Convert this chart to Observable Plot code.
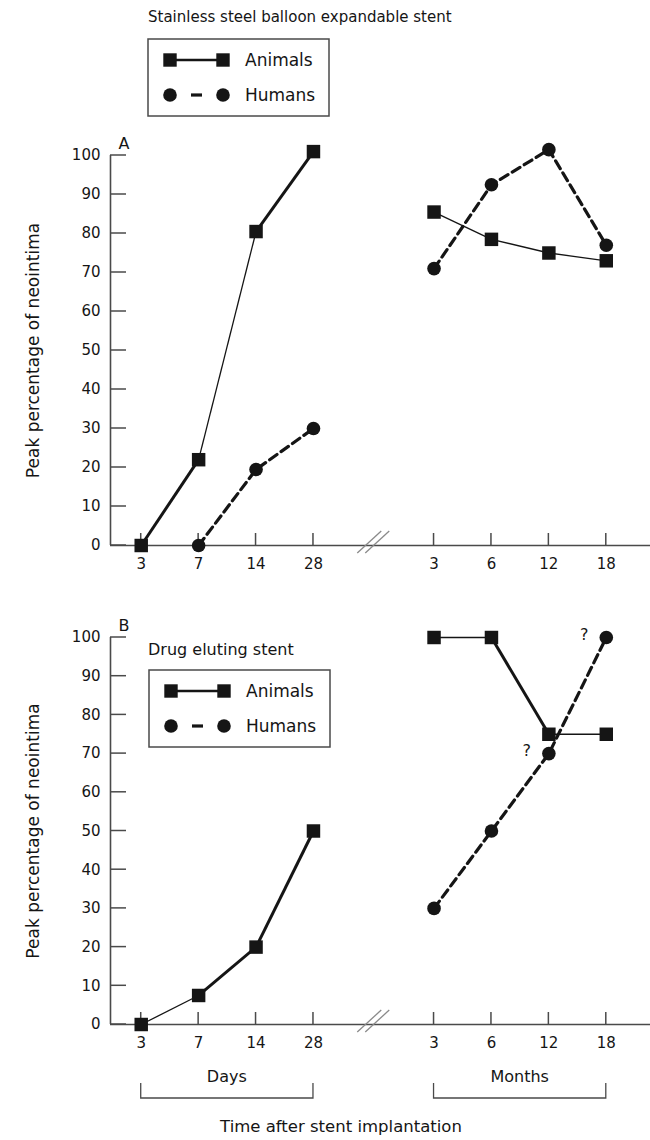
<!DOCTYPE html>
<html><head><meta charset="utf-8">
<script src="https://cdn.jsdelivr.net/npm/d3@7"></script>
<script src="https://cdn.jsdelivr.net/npm/@observablehq/plot@0.6"></script>
<style>
body{margin:0;background:#fff;}
#wrap{position:relative;width:650px;height:1140px;font-family:"DejaVu Sans",sans-serif;color:#222;overflow:hidden;}
#wrap > svg, #wrap > div{position:absolute;}
.ttl{font-size:15px;white-space:nowrap;color:#151515;}
</style></head><body><div id="wrap"></div>
<script>
// ---------- data ----------
const dayLabels = ["3", "7", "14", "28"];
const monthLabels = ["3", "6", "12", "18"];
const yTickValues = [0, 10, 20, 30, 40, 50, 60, 70, 80, 90, 100];
const seriesNames = ["Animals", "Humans"];

// Panel A: stainless steel balloon expandable stent
const aAnimalsDays = [0, 22, 80.5, 101];
const aAnimalsMonths = [85.5, 78.5, 75, 73];
const aHumansDays = [null, 0, 19.5, 30];
const aHumansMonths = [71, 92.5, 101.5, 77];
const aAnimalsDayWidths = [3, 1.3, 3];
const aAnimalsMonthWidths = [1.3, 1.3, 1.3];
const aNotes = [null, null, null, null];

// Panel B: drug eluting stent
const bAnimalsDays = [0, 7.5, 20, 50];
const bAnimalsMonths = [100, 100, 75, 75];
const bHumansDays = [null, null, null, null];
const bHumansMonths = [30, 50, 70, 100];
const bAnimalsDayWidths = [1.3, 3, 3];
const bAnimalsMonthWidths = [1.3, 3, 1.3];
const bNotes = [null, null, "?", "?"];

// ---------- layout ----------
const W = 650;
const monthStart = 5.1;            // position of first month tick (gap for axis break)
const xDomain = [-0.535, 8.87];
const tickPos = [...dayLabels.map((_, i) => i), ...monthLabels.map((_, j) => monthStart + j)];
const tickText = [...dayLabels, ...monthLabels];
const labelAt = new Map(tickPos.map((p, i) => [p, tickText[i]]));
const INK = "#151515", AXIS = "#4a4a4a";

function points(days, months) {
  const out = [];
  days.forEach((v, i) => { if (v != null) out.push({x: i, y: v, g: "d"}); });
  months.forEach((v, j) => { if (v != null) out.push({x: monthStart + j, y: v, g: "m"}); });
  return out;
}
function segments(days, months, dw, mw) {
  const out = [];
  for (let i = 0; i < days.length - 1; i++)
    if (days[i] != null && days[i + 1] != null) out.push({x1: i, y1: days[i], x2: i + 1, y2: days[i + 1], w: dw[i]});
  for (let j = 0; j < months.length - 1; j++)
    if (months[j] != null && months[j + 1] != null) out.push({x1: monthStart + j, y1: months[j], x2: monthStart + j + 1, y2: months[j + 1], w: mw[j]});
  return out;
}

// inward-pointing tick marks placed through the plot's scales
function inwardTicks() {
  return (index, scales) => {
    const g = d3.create("svg:g");
    const x0 = scales.x(xDomain[0]), y0 = scales.y(0);
    for (const v of yTickValues) {
      const y = scales.y(v);
      g.append("path").attr("d", `M${x0},${y}h16`).attr("stroke", AXIS).attr("stroke-width", 1.5).attr("fill", "none");
    }
    for (const p of tickPos) {
      const x = scales.x(p);
      g.append("path").attr("d", `M${x},${y0}v-12`).attr("stroke", AXIS).attr("stroke-width", 1.5).attr("fill", "none");
    }
    return g.node();
  };
}
function breakMark() {
  return (index, scales) => {
    const g = d3.create("svg:g");
    const cx = scales.x((3 + monthStart) / 2), cy = scales.y(0) - 3;
    for (const off of [-4, 4]) {
      g.append("line").attr("x1", cx + off - 12).attr("y1", cy + 11).attr("x2", cx + off + 12).attr("y2", cy - 11)
        .attr("stroke", "#8a8a8a").attr("stroke-width", 1.3);
    }
    return g.node();
  };
}
function bracketMark() {
  return (index, scales) => {
    const g = d3.create("svg:g").attr("font-size", 16).attr("fill", INK).attr("text-anchor", "middle");
    const y0 = scales.y(0);
    const groups = [["Days", scales.x(0), scales.x(3)], ["Months", scales.x(monthStart), scales.x(monthStart + 3)]];
    for (const [lab, a, b] of groups) {
      g.append("text").attr("x", (a + b) / 2).attr("y", y0 + 52).attr("dy", "0.35em").text(lab);
      g.append("path").attr("d", `M${a},${y0 + 59}V${y0 + 74}H${b}V${y0 + 59}`)
        .attr("fill", "none").attr("stroke", AXIS).attr("stroke-width", 1.3);
    }
    return g.node();
  };
}

function panel(o) {
  const an = points(o.animalsDays, o.animalsMonths);
  const hu = points(o.humansDays, o.humansMonths);
  const segs = segments(o.animalsDays, o.animalsMonths, o.dayW, o.monthW);
  const notes = o.humansMonths.map((v, j) => ({x: monthStart + j, y: v, t: o.notes[j]})).filter(d => d.t);
  const marks = [
    Plot.ruleY([0], {stroke: AXIS, strokeWidth: 1.6}),
    Plot.ruleX([xDomain[0]], {y1: 0, y2: 100, stroke: AXIS, strokeWidth: 1.6}),
    inwardTicks(),
    Plot.axisY(yTickValues, {anchor: "left", tickSize: 0, tickPadding: 10, label: null, fill: INK, fontSize: 15}),
    Plot.axisX(tickPos, {anchor: "bottom", tickSize: 0, tickPadding: 13, label: null, fill: INK, fontSize: 15,
      tickFormat: d => labelAt.get(d)}),
    Plot.text(["Peak percentage of neointima"], {frameAnchor: "left", rotate: -90, dx: -77, textAnchor: "middle",
      text: d => d, fontSize: 17, fill: INK}),
    Plot.text([o.letter], {frameAnchor: "top-left", dx: 8, dy: -18, text: d => d, fontSize: 16, fill: INK}),
    breakMark(),
    Plot.line(hu, {x: "x", y: "y", z: "g", stroke: INK, strokeWidth: 3.2, strokeDasharray: "9,5"}),
    Plot.link(segs, {x1: "x1", y1: "y1", x2: "x2", y2: "y2", strokeWidth: "w", stroke: INK}),
    Plot.dot(an, {x: "x", y: "y", symbol: "square", r: 7.6, fill: INK, stroke: null}),
    Plot.dot(hu, {x: "x", y: "y", symbol: "circle", r: 6.8, fill: INK, stroke: null}),
    Plot.text(notes, {x: "x", y: "y", text: "t", dx: -22, dy: -3, fontSize: 16, fill: INK})
  ];
  if (o.brackets) marks.push(bracketMark());
  return Plot.plot({
    width: W, height: o.height,
    marginLeft: 110, marginRight: 0, marginTop: o.marginTop, marginBottom: o.marginBottom,
    style: {fontFamily: "DejaVu Sans, sans-serif", fontSize: "15px", color: INK, background: "#fff"},
    x: {type: "linear", domain: xDomain, axis: null},
    y: {type: "linear", domain: [0, 100], axis: null},
    marks
  });
}

function legendBox(left, top) {
  const svg = d3.create("svg").attr("width", 184).attr("height", 80)
    .style("left", left + "px").style("top", top + "px").style("position", "absolute");
  svg.append("rect").attr("x", 1).attr("y", 1).attr("width", 181).attr("height", 77)
    .attr("fill", "#fff").attr("stroke", AXIS).attr("stroke-width", 1.5);
  const r1 = 22, r2 = 57, xa = 23, xb = 76;
  svg.append("line").attr("x1", xa).attr("x2", xb).attr("y1", r1).attr("y2", r1).attr("stroke", INK).attr("stroke-width", 2.5);
  for (const x of [xa, xb]) svg.append("rect").attr("x", x - 6.7).attr("y", r1 - 6.7).attr("width", 13.4).attr("height", 13.4).attr("fill", INK);
  svg.append("line").attr("x1", 44).attr("x2", 55).attr("y1", r2).attr("y2", r2).attr("stroke", INK).attr("stroke-width", 3.2);
  for (const x of [xa, xb]) svg.append("circle").attr("cx", x).attr("cy", r2).attr("r", 6.8).attr("fill", INK);
  [[seriesNames[0], r1], [seriesNames[1], r2]].forEach(([t, y]) =>
    svg.append("text").attr("x", 98).attr("y", y).attr("dy", "0.35em").attr("font-size", 17)
      .attr("font-family", "DejaVu Sans, sans-serif").attr("fill", INK).text(t));
  return svg.node();
}

const wrap = document.getElementById("wrap");

const pA = panel({letter: "A", animalsDays: aAnimalsDays, animalsMonths: aAnimalsMonths, humansDays: aHumansDays,
  humansMonths: aHumansMonths, dayW: aAnimalsDayWidths, monthW: aAnimalsMonthWidths, notes: aNotes,
  height: 580, marginTop: 155, marginBottom: 35, brackets: false});
pA.style.position = "absolute"; pA.style.left = "0px"; pA.style.top = "0px";
wrap.appendChild(pA);

const pB = panel({letter: "B", animalsDays: bAnimalsDays, animalsMonths: bAnimalsMonths, humansDays: bHumansDays,
  humansMonths: bHumansMonths, dayW: bAnimalsDayWidths, monthW: bAnimalsMonthWidths, notes: bNotes,
  height: 560, marginTop: 57, marginBottom: 116, brackets: true});
pB.style.position = "absolute"; pB.style.left = "0px"; pB.style.top = "580px";
wrap.appendChild(pB);

function addText(txt, left, top, cls, extra) {
  const d = document.createElement("div");
  d.className = cls; d.textContent = txt;
  d.style.left = left + "px"; d.style.top = top + "px";
  Object.assign(d.style, extra || {});
  wrap.appendChild(d);
  return d;
}
addText("Stainless steel balloon expandable stent", 148, 8, "ttl");
wrap.appendChild(legendBox(147, 38));
addText("Drug eluting stent", 148, 640, "ttl", {fontSize: "16px"});
wrap.appendChild(legendBox(148, 669));
addText("Time after stent implantation", 341, 1117, "ttl", {transform: "translateX(-50%)", fontSize: "16.5px"});
</script></body></html>
